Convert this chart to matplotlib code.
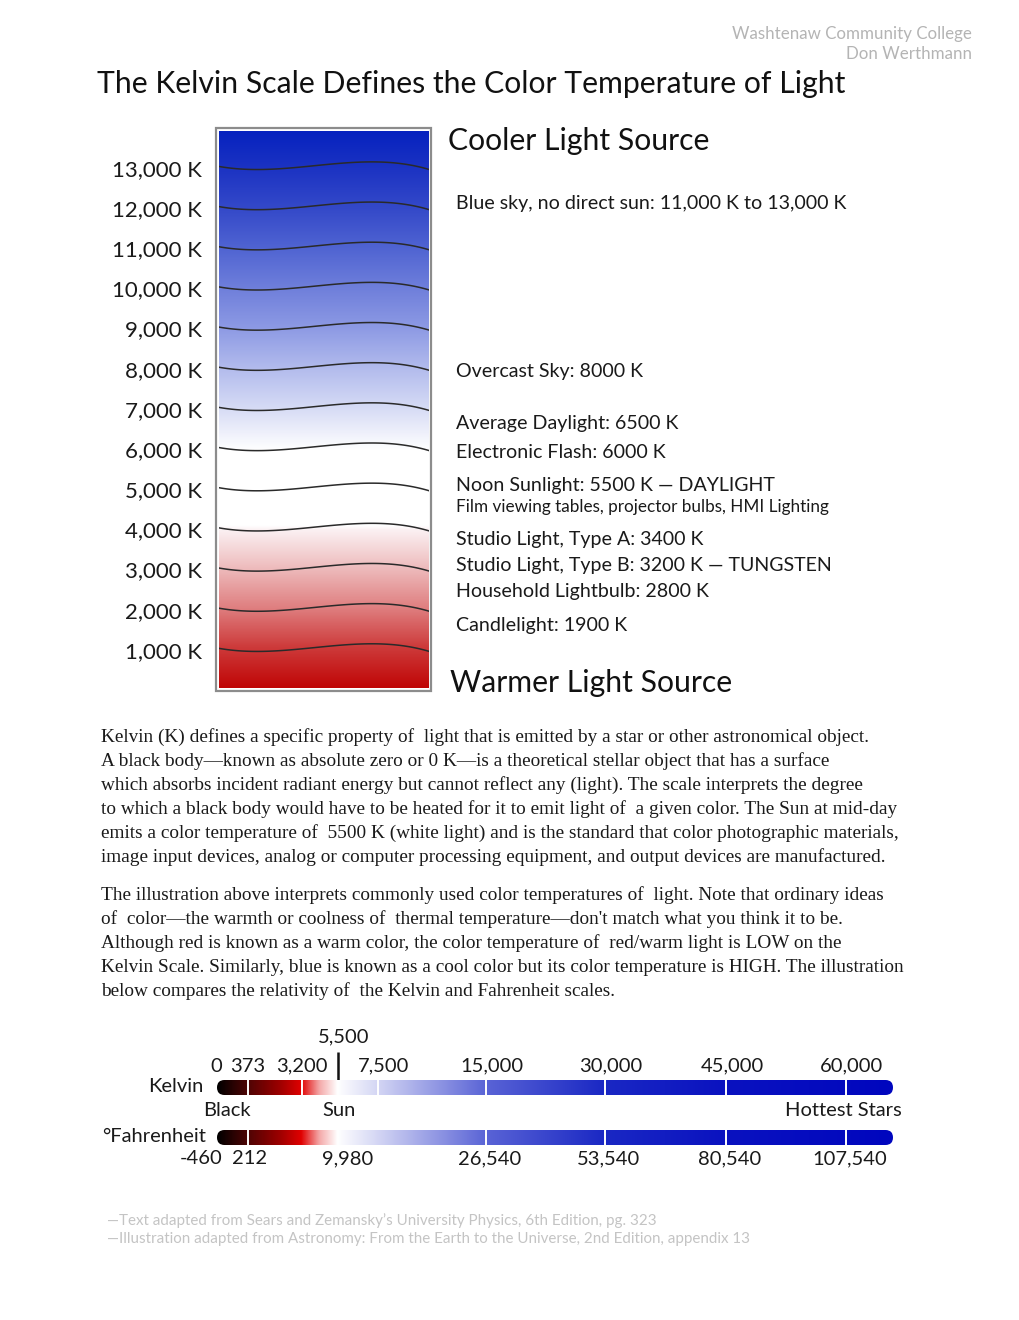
import numpy as np
import matplotlib
matplotlib.use("Agg")
import matplotlib.pyplot as plt
from matplotlib.colors import LinearSegmentedColormap
from matplotlib.patches import Rectangle, FancyBboxPatch

# ---- data ----
thermo_kelvin = [1000, 2000, 3000, 4000, 5000, 6000, 7000, 8000, 9000, 10000, 11000, 12000, 13000]
thermo_labels = ["1,000 K", "2,000 K", "3,000 K", "4,000 K", "5,000 K", "6,000 K", "7,000 K",
                 "8,000 K", "9,000 K", "10,000 K", "11,000 K", "12,000 K", "13,000 K"]

sources = ["Blue sky, no direct sun: 11,000 K to 13,000 K",
           "Overcast Sky: 8000 K",
           "Average Daylight: 6500 K",
           "Electronic Flash: 6000 K",
           "Noon Sunlight: 5500 K \u2014 DAYLIGHT",
           "Film viewing tables, projector bulbs, HMI Lighting",
           "Studio Light, Type A: 3400 K",
           "Studio Light, Type B: 3200 K \u2014 TUNGSTEN",
           "Household Lightbulb: 2800 K",
           "Candlelight: 1900 K"]

para1 = ["Kelvin (K) defines a specific property of  light that is emitted by a star or other astronomical object.",
         "A black body\u2014known as absolute zero or 0 K\u2014is a theoretical stellar object that has a surface",
         "which absorbs incident radiant energy but cannot reflect any (light). The scale interprets the degree",
         "to which a black body would have to be heated for it to emit light of  a given color. The Sun at mid-day",
         "emits a color temperature of  5500 K (white light) and is the standard that color photographic materials,",
         "image input devices, analog or computer processing equipment, and output devices are manufactured."]
para2 = ["The illustration above interprets commonly used color temperatures of  light. Note that ordinary ideas",
         "of  color\u2014the warmth or coolness of  thermal temperature\u2014don't match what you think it to be.",
         "Although red is known as a warm color, the color temperature of  red/warm light is LOW on the",
         "Kelvin Scale. Similarly, blue is known as a cool color but its color temperature is HIGH. The illustration",
         "below compares the relativity of  the Kelvin and Fahrenheit scales."]

scale_kelvin = [0, 373, 3200, 5500, 7500, 15000, 30000, 45000, 60000]
scale_kelvin_labels = ["0", "373", "3,200", "5,500", "7,500", "15,000", "30,000", "45,000", "60,000"]
kelvin_white_ticks = [373, 3200, 7500, 15000, 30000, 45000, 60000]
sun_kelvin = 5500
fahrenheit = [-460, 212, 9980, 26540, 53540, 80540, 107540]
fahrenheit_labels = ["-460", "212", "9,980", "26,540", "53,540", "80,540", "107,540"]
fahrenheit_white_ticks = [212, 26540, 53540, 80540, 107540]

footnotes = ["\u2014Text adapted from Sears and Zemansky\u2019s University Physics, 6th Edition, pg. 323",
             "\u2014Illustration adapted from Astronomy: From the Earth to the Universe, 2nd Edition, appendix 13"]

# ---- layout ----
W, H = 1020, 1320
SANS = "Lato"
SERIF = "Liberation Serif"
INK = "#1a1a1a"
fig = plt.figure(figsize=(W / 100, H / 100), dpi=100)
bg = fig.add_axes([0, 0, 1, 1])
bg.set_xlim(0, W)
bg.set_ylim(H, 0)
bg.axis("off")


def px_axes(x0, y0, x1, y1):
    return fig.add_axes([x0 / W, 1 - y1 / H, (x1 - x0) / W, (y1 - y0) / H])


# header
bg.text(972, 34, "Washtenaw Community College", ha="right", va="center", fontsize=12.2,
        color="#b4b4b4", family=SANS)
bg.text(972, 54, "Don Werthmann", ha="right", va="center", fontsize=12.2, color="#b4b4b4", family=SANS)
bg.text(97, 84, "The Kelvin Scale Defines the Color Temperature of Light", ha="left", va="center",
        fontsize=21.7, color="#111111", family=SANS)

# ---- thermometer ----
bg.add_patch(Rectangle((216.5, 127.5), 215, 563, facecolor="white", edgecolor="#8c8c8c", lw=1.6))
th = px_axes(219, 131, 429, 688)
kmin, kmax = 50, 13920
thermo_cmap = LinearSegmentedColormap.from_list("thermo", [
    (0.0, "#c00606"), (1000 / kmax, "#cd3a3a"), (2000 / kmax, "#df7f80"), (3000 / kmax, "#eebcbd"),
    (3950 / kmax, "#fbf1f3"), (4050 / kmax, "#ffffff"), (5950 / kmax, "#ffffff"),
    (7000 / kmax, "#d6dbf5"), (8000 / kmax, "#b2bbed"), (9000 / kmax, "#8d9ae4"),
    (10000 / kmax, "#6f7fdb"), (11000 / kmax, "#5064d2"), (12000 / kmax, "#3449c9"),
    (13000 / kmax, "#1c33c3"), (1.0, "#0622bf")], N=1024)
grad = np.linspace(0, kmax, 600).reshape(-1, 1)
th.imshow(grad, extent=[0, 1, kmin, kmax], origin="lower", aspect="auto", cmap=thermo_cmap,
          vmin=0, vmax=kmax)
th.set_xlim(0, 1)
th.set_ylim(kmin, kmax)
for s in th.spines.values():
    s.set_visible(False)
th.set_xticks([])

# wavy iso-lines (shape in pixels, converted to kelvin)
k_per_px = (kmax - kmin) / (688 - 131)
wave = np.polyfit([0, 0.15, 0.7, 1.0], [-1.5, 1.5, -6.0, 1.5], 3)
xs = np.linspace(0, 1, 120)
for k in thermo_kelvin:
    th.plot(xs, k - np.polyval(wave, xs) * k_per_px, color="#2a2a2a", lw=1.1)
th.set_yticks(thermo_kelvin)
th.set_yticklabels(thermo_labels, fontsize=16, family=SANS, color=INK)
th.tick_params(axis="y", length=0, pad=12)

bg.text(448, 141, "Cooler Light Source", ha="left", va="center", fontsize=21.7, family=SANS, color="#111111")
bg.text(450, 683, "Warmer Light Source", ha="left", va="center", fontsize=21.7, family=SANS, color="#111111")
source_y = [203, 371, 424, 452, 486, 507, 540, 565, 591, 626]
for txt, y in zip(sources, source_y):
    small = txt.startswith("Film")
    bg.text(456, y, txt, ha="left", va="center", fontsize=12.3 if small else 14.1, family=SANS, color=INK)

# ---- body text ----
for i, line in enumerate(para1):
    bg.text(101, 737 + 24 * i, line, ha="left", va="center", fontsize=13.9, family=SERIF, color=INK)
for i, line in enumerate(para2):
    bg.text(101, 895 + 24 * i, line, ha="left", va="center", fontsize=13.9, family=SERIF, color=INK)

# ---- comparison scale ----
anchor_k = [0, 373, 3200, 5500, 7500, 15000, 30000, 45000, 60000, 66000]
anchor_px = [218, 248, 302, 338, 378, 486, 605, 726, 846, 893]


def fwd(k):
    return np.interp(k, anchor_k, anchor_px)


def inv(p):
    return np.interp(p, anchor_px, anchor_k)


bar_cmap = LinearSegmentedColormap.from_list("bar", [
    (0.0, "#000000"), (0.044, "#4c0404"), (0.092, "#9c0000"), (0.124, "#e00000"),
    (0.151, "#f4a8a8"), (0.178, "#ffffff"), (0.237, "#d4d6f4"), (0.397, "#5a64d6"),
    (0.573, "#1a28c4"), (0.753, "#0a12c0"), (1.0, "#0006be")], N=2048)


def f_to_k(f):
    return (np.asarray(f, dtype=float) + 459.67) * 5 / 9


def draw_bar(y0, y1, white_k):
    # gradient layer (linear in position) clipped to a rounded bar
    gax = px_axes(217, y0, 893, y1)
    gax.axis("off")
    img = gax.imshow(np.linspace(0, 1, 1400).reshape(1, -1), extent=[0, 1, 0, 1], aspect="auto",
                     cmap=bar_cmap, vmin=0, vmax=1, interpolation="bilinear")
    gax.set_xlim(0, 1)
    gax.set_ylim(0, 1)
    clip = FancyBboxPatch((217 / 100, (H - y1) / 100), (893 - 217) / 100, (y1 - y0) / 100,
                          boxstyle="round,pad=0,rounding_size=%f" % ((y1 - y0) / 200),
                          transform=fig.dpi_scale_trans, facecolor="none", edgecolor="none")
    img.set_clip_path(clip)
    # kelvin scale layer for the tick marks
    ax = px_axes(218, y0, 893, y1)
    ax.set_xscale("function", functions=(fwd, inv))
    ax.set_xlim(0, 66000)
    ax.set_ylim(0, 1)
    ax.axis("off")
    ax.patch.set_alpha(0)
    for k in white_k:
        ax.axvline(k, color="white", lw=1.4)
    return ax


kax = draw_bar(1080, 1095, kelvin_white_ticks)
fax = draw_bar(1130, 1145, f_to_k(fahrenheit_white_ticks))

for k, lab in zip(scale_kelvin, scale_kelvin_labels):
    nudge = 6 if k >= 5500 else (-2 if k == 0 else 0)
    y = 1037 if k == sun_kelvin else 1066
    bg.text(fwd(k) + nudge, y, lab, ha="center", va="center", fontsize=14.5, family=SANS, color=INK)
bg.plot([fwd(sun_kelvin)] * 2, [1052, 1083], color="#111111", lw=1.8, solid_capstyle="butt")

for f, lab in zip(fahrenheit, fahrenheit_labels):
    x = fwd(f_to_k(f))
    nudge = -17 if f < 0 else (4 if f > 5000 else 2)
    bg.text(x + nudge, 1159, lab, ha="center", va="center", fontsize=14.5, family=SANS, color=INK)

bg.text(204, 1087, "Kelvin", ha="right", va="center", fontsize=14.5, family=SANS, color=INK)
bg.text(206, 1137, "\u00b0Fahrenheit", ha="right", va="center", fontsize=14.5, family=SANS, color=INK)
bg.text(fwd(373) - 21, 1111, "Black", ha="center", va="center", fontsize=14.5, family=SANS, color=INK)
bg.text(fwd(sun_kelvin) + 1, 1111, "Sun", ha="center", va="center", fontsize=14.5, family=SANS, color=INK)
bg.text(902, 1111, "Hottest Stars", ha="right", va="center", fontsize=14.5, family=SANS, color=INK)

for i, line in enumerate(footnotes):
    bg.text(107, 1221 + 18 * i, line, ha="left", va="center", fontsize=10.9, family=SANS, color="#c4c4c4")

fig.savefig("out.png", dpi=100, facecolor="white")
